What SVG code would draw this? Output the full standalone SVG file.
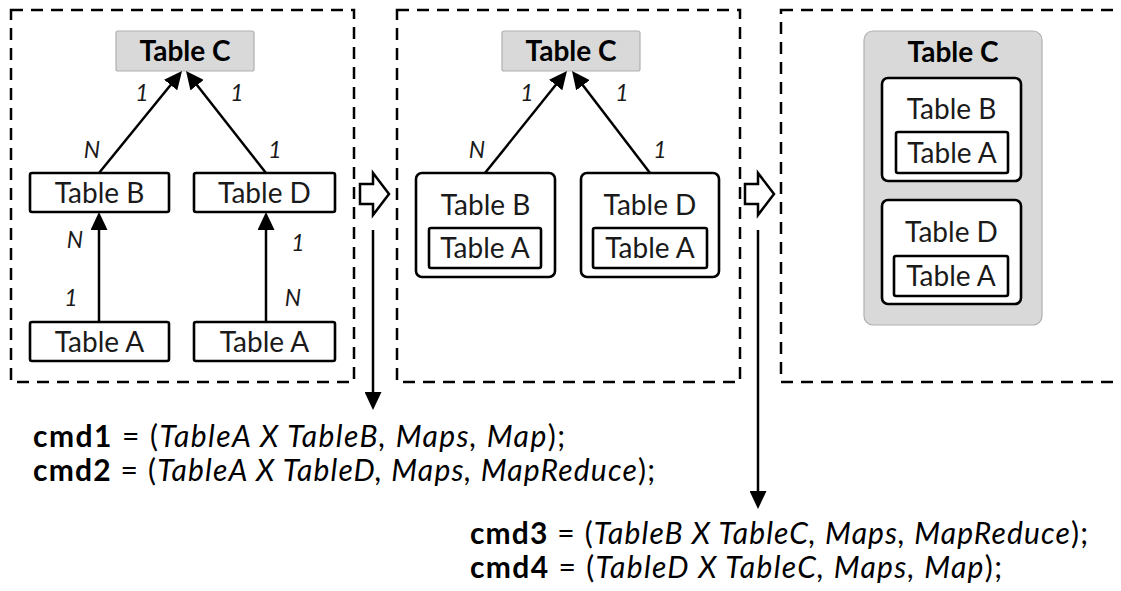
<svg xmlns="http://www.w3.org/2000/svg" width="1121" height="591" viewBox="0 0 1121 591">
  <style>
    .frame { fill: none; stroke: #000; stroke-width: 2.5; stroke-dasharray: 12 8; }
    .box { fill: #fff; stroke: #000; stroke-width: 2.6; }
    .gray { fill: #d9d9d9; stroke: #b0b0b0; stroke-width: 1.2; }
    .lbl { font-family: Lato, "Liberation Sans", sans-serif; font-size: 28px; fill: #1a1a1a; text-anchor: middle; }
    .bold { font-weight: bold; fill: #000; }
    .card { font-family: Lato, "Liberation Sans", sans-serif; font-size: 23px; font-style: italic; fill: #1a1a1a; text-anchor: middle; }
    .edge { stroke: #000; stroke-width: 2.5; fill: none; marker-end: url(#head); }
    .block { fill: #fff; stroke: #000; stroke-width: 2.5; stroke-linejoin: miter; }
    .cmd { font-family: Lato, "Liberation Sans", sans-serif; font-size: 30px; fill: #000; }
    .cmd .b { font-weight: bold; }
    .cmd .i { font-style: italic; }
  </style>
  <defs>
    <marker id="head" markerUnits="userSpaceOnUse" markerWidth="18" markerHeight="17" refX="8" refY="8.5" orient="auto">
      <path d="M0,0 L18,8.5 L0,17 z" fill="#000"/>
    </marker>
  </defs>

  <rect width="1121" height="591" fill="#fff"/>

  <!-- stage frames -->
  <g id="frames">
    <rect class="frame" x="11" y="10" width="343" height="372"/>
    <rect class="frame" x="397" y="10" width="343" height="372"/>
    <rect class="frame" x="781" y="10" width="360" height="372"/>
  </g>

  <!-- stage 1: separate tables -->
  <g id="s1-tableC">
    <rect class="gray" x="116" y="31" width="138" height="40" rx="2"/>
    <text class="lbl bold" x="185" y="61">Table C</text>
  </g>
  <g id="s1-tableB">
    <rect class="box" x="30" y="173" width="139" height="39" rx="2"/>
    <text class="lbl" x="99.5" y="203">Table B</text>
  </g>
  <g id="s1-tableD">
    <rect class="box" x="194" y="173" width="141" height="39" rx="2"/>
    <text class="lbl" x="264.5" y="203">Table D</text>
  </g>
  <g id="s1-tableA1">
    <rect class="box" x="30" y="322" width="139" height="39" rx="2"/>
    <text class="lbl" x="99.5" y="352">Table A</text>
  </g>
  <g id="s1-tableA2">
    <rect class="box" x="194" y="322" width="141" height="39" rx="2"/>
    <text class="lbl" x="264.5" y="352">Table A</text>
  </g>

  <!-- stage 2: A nested in B and D -->
  <g id="s2-tableC">
    <rect class="gray" x="502" y="31" width="138" height="40" rx="2"/>
    <text class="lbl bold" x="571" y="61">Table C</text>
  </g>
  <g id="s2-tableB">
    <rect class="box" x="416" y="173" width="139" height="104" rx="6"/>
    <text class="lbl" x="485.5" y="215">Table B</text>
    <rect class="box" x="429" y="228" width="112" height="40" rx="2"/>
    <text class="lbl" x="485" y="258">Table A</text>
  </g>
  <g id="s2-tableD">
    <rect class="box" x="581" y="173" width="138" height="104" rx="6"/>
    <text class="lbl" x="650" y="215">Table D</text>
    <rect class="box" x="593" y="228" width="114" height="40" rx="2"/>
    <text class="lbl" x="650" y="258">Table A</text>
  </g>

  <!-- stage 3: everything nested in C -->
  <g id="s3-tableC">
    <rect class="gray" x="864" y="31" width="178" height="294" rx="9"/>
    <text class="lbl bold" x="953" y="62">Table C</text>
  </g>
  <g id="s3-tableB">
    <rect class="box" x="882" y="78" width="139" height="103" rx="6"/>
    <text class="lbl" x="951.5" y="119">Table B</text>
    <rect class="box" x="896" y="132" width="112" height="41" rx="2"/>
    <text class="lbl" x="952" y="163">Table A</text>
  </g>
  <g id="s3-tableD">
    <rect class="box" x="882" y="200" width="139" height="104" rx="6"/>
    <text class="lbl" x="951.5" y="242">Table D</text>
    <rect class="box" x="894" y="256" width="114" height="40" rx="2"/>
    <text class="lbl" x="951" y="286">Table A</text>
  </g>

  <!-- connectors -->
  <g id="connectors">
    <line class="edge" x1="99" y1="173" x2="175.7" y2="78.8"/>
    <line class="edge" x1="266" y1="173" x2="192.2" y2="78.9"/>
    <line class="edge" x1="99" y1="322" x2="99" y2="222"/>
    <line class="edge" x1="266" y1="322" x2="266" y2="222"/>
    <line class="edge" x1="485" y1="173" x2="560.7" y2="78.8"/>
    <line class="edge" x1="650" y1="173" x2="578.1" y2="78.9"/>
    <line class="edge" x1="373" y1="230" x2="373" y2="400"/>
    <line class="edge" x1="758" y1="230" x2="758" y2="499"/>
    <polygon class="block" points="360,184 373,184 373,173 389,194 373,215 373,204 360,204"/>
    <polygon class="block" points="745,184 758,184 758,173 774,194 758,215 758,204 745,204"/>
  </g>

  <!-- cardinalities -->
  <g id="cardinalities">
    <text class="card" x="142" y="101">1</text>
    <text class="card" x="237" y="101">1</text>
    <text class="card" x="92" y="158">N</text>
    <text class="card" x="275" y="158">1</text>
    <text class="card" x="75" y="248">N</text>
    <text class="card" x="71" y="306">1</text>
    <text class="card" x="298" y="251">1</text>
    <text class="card" x="293" y="306">N</text>
    <text class="card" x="527" y="101">1</text>
    <text class="card" x="622" y="101">1</text>
    <text class="card" x="477" y="158">N</text>
    <text class="card" x="660" y="158">1</text>
  </g>

  <!-- join commands -->
  <g id="commands">
    <text class="cmd" x="33" y="447" textLength="532" lengthAdjust="spacing"><tspan class="b">cmd1</tspan> = (<tspan class="i">TableA X TableB, Maps, Map</tspan>);</text>
    <text class="cmd" x="33" y="481" textLength="622" lengthAdjust="spacing"><tspan class="b">cmd2</tspan> = (<tspan class="i">TableA X TableD, Maps, MapReduce</tspan>);</text>
    <text class="cmd" x="470" y="544" textLength="618" lengthAdjust="spacing"><tspan class="b">cmd3</tspan> = (<tspan class="i">TableB X TableC, Maps, MapReduce</tspan>);</text>
    <text class="cmd" x="470" y="578" textLength="532" lengthAdjust="spacing"><tspan class="b">cmd4</tspan> = (<tspan class="i">TableD X TableC, Maps, Map</tspan>);</text>
  </g>
</svg>
